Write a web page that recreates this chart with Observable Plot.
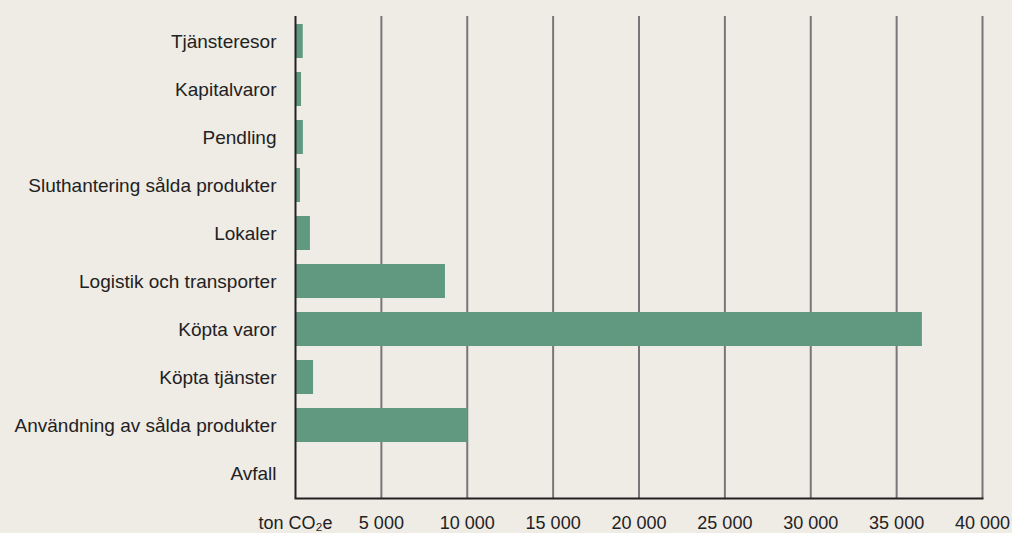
<!DOCTYPE html>
<html>
<head>
<meta charset="utf-8">
<script src="https://cdn.jsdelivr.net/npm/d3@7"></script>
<script src="https://cdn.jsdelivr.net/npm/@observablehq/plot@0.6"></script>
<style>
  html, body { margin: 0; padding: 0; background: #efebe5; }
  svg g[aria-label="y-axis tick label"] { font-size: 19px; }
  svg g[aria-label="x-axis tick label"] { font-size: 18px; }
</style>
</head>
<body>
<div id="chart"></div>
<script>
const categories = ["Tjänsteresor", "Kapitalvaror", "Pendling", "Sluthantering sålda produkter", "Lokaler", "Logistik och transporter", "Köpta varor", "Köpta tjänster", "Användning av sålda produkter", "Avfall"];
const values = [450, 350, 460, 290, 870, 8730, 36500, 1050, 10050, 30];
const xTicks = [0, 5000, 10000, 15000, 20000, 25000, 30000, 35000, 40000];
const unitLabel = "ton CO₂e";

const data = categories.map((c, i) => ({category: c, value: values[i]}));
const fmt = v => v === 0 ? unitLabel : d3.format(",")(v).replace(/,/g, " ");

const chart = Plot.plot({
  width: 1012,
  height: 533,
  marginLeft: 295,
  marginRight: 30,
  marginTop: 16,
  marginBottom: 35,
  style: {background: "#efebe5", fontFamily: "'Liberation Sans', Arial, sans-serif", fontSize: "17px", color: "#222"},
  x: {domain: [0, 40000], ticks: xTicks, tickFormat: fmt, tickSize: 0, tickPadding: 18, label: null},
  y: {domain: categories, paddingInner: 0.2917, paddingOuter: 0.16, tickSize: 0, tickPadding: 19, label: null},
  marks: [
    Plot.ruleX(xTicks.slice(1), {stroke: "#777", strokeWidth: 2}),
    Plot.barX(data, {x: "value", y: "category", fill: "#609880"}),
    Plot.ruleX([0], {stroke: "#222", strokeWidth: 2}),
    Plot.frame({anchor: "bottom", stroke: "#222", strokeWidth: 2})
  ]
});
document.getElementById("chart").appendChild(chart);
</script>
</body>
</html>
